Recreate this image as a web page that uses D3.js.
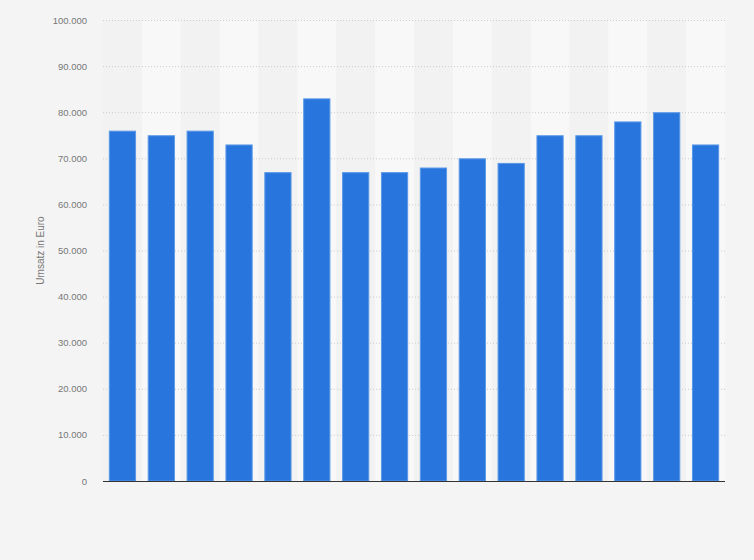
<!DOCTYPE html>
<html><head><meta charset="utf-8">
<script src="https://cdn.jsdelivr.net/npm/d3@7"></script>
<style>
body{margin:0;background:#f4f4f4;}
svg{display:block;font-family:"Liberation Sans",Arial,sans-serif;}
</style></head>
<body>
<svg id="chart" width="754" height="560"></svg>
<script>
const categories = ["1","2","3","4","5","6","7","8","9","10","11","12","13","14","15","16"];
const values = [76000,75000,76000,73000,67000,83000,67000,67000,68000,70000,69000,75000,75000,78000,80000,73000];
const yTicks = [0,10000,20000,30000,40000,50000,60000,70000,80000,90000,100000];
const yLabel = "Umsatz in Euro";

const svg = d3.select("#chart");
const m = {left:103, right:29, top:20, bottom:79};
const W = 754, H = 560;
const x = d3.scaleBand().domain(categories).range([m.left, W - m.right]).paddingInner(0.3).paddingOuter(0.15);
const xb = d3.scaleBand().domain(categories).range([m.left, W - m.right]);
const y = d3.scaleLinear().domain([0,100000]).range([H - m.bottom, m.top]);

svg.append("rect").attr("width",W).attr("height",H).attr("fill","#f4f4f4");

// alternating bands
svg.append("g").selectAll("rect").data(categories).join("rect")
  .attr("x", d => xb(d)).attr("width", xb.bandwidth())
  .attr("y", m.top).attr("height", y(0) - m.top)
  .attr("fill", (d,i) => i % 2 ? "#f8f8f8" : "#f2f2f2");

// gridlines
svg.append("g").selectAll("line").data(yTicks.filter(t => t > 0)).join("line")
  .attr("x1", m.left).attr("x2", W - m.right)
  .attr("y1", d => y(d) + 0.5).attr("y2", d => y(d) + 0.5)
  .attr("stroke", "#cccccc").attr("stroke-dasharray", "1,2");

// y axis
const fmt = d3.formatLocale({decimal:",", thousands:".", grouping:[3], currency:["","€"]}).format(",");
const ya = d3.axisLeft(y).tickValues(yTicks).tickFormat(fmt).tickSize(0).tickPadding(16);
const g = svg.append("g").attr("transform", `translate(${m.left},0)`).call(ya);
g.select(".domain").remove();
g.selectAll("text").attr("fill","#777").style("font-size","9.5px");

// bars
svg.append("g").selectAll("rect").data(values).join("rect")
  .attr("x", (d,i) => x(categories[i]) + 0.5)
  .attr("width", x.bandwidth() - 1)
  .attr("y", d => y(d) + 0.5)
  .attr("height", d => y(0) - y(d) - 0.5)
  .attr("fill", "#2876dd")
  .attr("stroke", "#5b98e6").attr("stroke-width", 1);

// x axis baseline
svg.append("line").attr("x1", m.left).attr("x2", W - m.right)
  .attr("y1", y(0) + 0.5).attr("y2", y(0) + 0.5)
  .attr("stroke", "#333").attr("stroke-width", 1.2);

// y label
svg.append("text")
  .attr("transform", `translate(44,${(y(0)+y(100000))/2}) rotate(-90)`)
  .attr("text-anchor","middle").attr("fill","#777").style("font-size","10px")
  .text(yLabel);
</script>
</body></html>
